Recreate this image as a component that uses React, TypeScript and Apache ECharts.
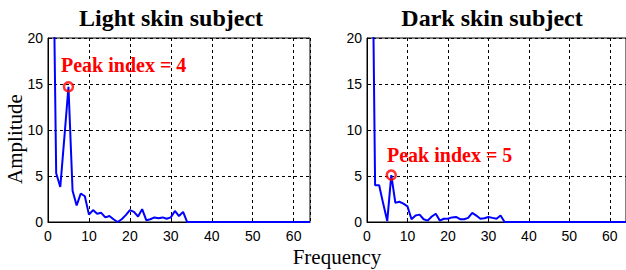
import React, { useEffect, useRef } from "react";
import * as echarts from "echarts";

// Amplitude spectra, sample k (0-based) plotted at frequency k + 1
const lightAmp = [
  40, 5.3, 3.8, 9.2, 14.7, 3.4, 1.8, 3.1, 2.8, 0.8,
  1.3, 0.9, 1.0, 0.5, 0.65, 0.3, 0.0, 0.3, 0.75, 1.3,
  1.1, 0.6, 1.4, 0.2, 0.3, 0.5, 0.4, 0.5, 0.35, 0.5,
  1.2, 0.65, 1.1, 0, 0, 0, 0, 0, 0, 0,
  0, 0, 0, 0, 0, 0, 0, 0, 0, 0,
  0, 0, 0, 0, 0, 0, 0, 0, 0, 0,
  0, 0, 0, 0,
];
const darkAmp = [
  45, 4.0, 4.0, 2.0, 0.1, 5.1, 2.1, 2.2, 2.0, 1.7,
  0.3, 0.7, 0.8, 0.3, 0.15, 0.6, 0.9, 0.15, 0.35, 0.35,
  0.5, 0.55, 0.3, 0.3, 0.45, 1.0, 0.7, 0.35, 0.4, 0.55,
  0.45, 0.35, 0.7, 0, 0, 0, 0, 0, 0, 0,
  0, 0, 0, 0, 0, 0, 0, 0, 0, 0,
  0, 0, 0, 0, 0, 0, 0, 0, 0, 0,
  0, 0, 0, 0,
];
const lightPeakIndex = 4;
const darkPeakIndex = 5;
const titles = ["Light skin subject", "Dark skin subject"];
const xLabel = "Frequency";
const yLabel = "Amplitude";
const xMin = 0, xMax = 64, xStep = 10;
const yMin = 0, yMax = 20, yStep = 5;

const SERIF = "Liberation Serif";
const SANS = "Liberation Sans";

export default function App() {
  const ref = useRef<HTMLDivElement>(null);
  useEffect(() => {
    if (!ref.current) return;
    const chart = echarts.init(ref.current, null, { renderer: "svg" });
    const toPairs = (arr: number[]) => arr.map((v, i) => [i + 1, v]);
    const grids = [
      { left: 48, top: 38, width: 262, height: 184 },
      { left: 367, top: 38, width: 262, height: 184 },
    ];
    const xAxis = [0, 1].map((i) => ({
      type: "value",
      gridIndex: i,
      min: xMin,
      max: xMax,
      interval: xStep,
      axisLine: { show: true, onZero: false, lineStyle: { color: "#000", width: 1 } },
      axisTick: { show: true, inside: true, length: 4, lineStyle: { color: "#000" } },
      axisLabel: { color: "#000", fontSize: 14, fontFamily: SANS, margin: 7, showMaxLabel: false },
      splitLine: { show: true, lineStyle: { color: "#000", width: 1, type: [3, 3] } },
    }));
    const yAxis = [0, 1].map((i) => ({
      type: "value",
      gridIndex: i,
      min: yMin,
      max: yMax,
      interval: yStep,
      axisLine: { show: true, onZero: false, lineStyle: { color: "#000", width: 1 } },
      axisTick: { show: true, inside: true, length: 4, lineStyle: { color: "#000" } },
      axisLabel: { color: "#000", fontSize: 14, fontFamily: SANS, margin: 5 },
      splitLine: { show: true, lineStyle: { color: "#000", width: 1, type: [3, 3] } },
    }));
    const lineSeries = (arr: number[], i: number) => ({
      type: "line",
      xAxisIndex: i,
      yAxisIndex: i,
      data: toPairs(arr),
      symbol: "none",
      clip: true,
      lineStyle: { color: "#0000ff", width: 2 },
      z: 3,
    });
    const peakSeries = (arr: number[], idx: number, i: number) => ({
      type: "scatter",
      xAxisIndex: i,
      yAxisIndex: i,
      data: [[idx + 1, arr[idx]]],
      symbol: "circle",
      symbolSize: 9,
      itemStyle: { color: "rgba(0,0,0,0)", borderColor: "#ff0000", borderWidth: 2.5 },
      z: 4,
    });
    const txt = (text: string, x: number, y: number, size: number, weight: string, fill: string, align: string, extra: any = {}) => ({
      type: "text",
      x,
      y,
      z: 10,
      ...extra,
      style: {
        text,
        fontFamily: SERIF,
        fontSize: size,
        fontWeight: weight,
        fill,
        align,
        verticalAlign: "middle",
      },
    });
    chart.setOption({
      animation: false,
      backgroundColor: "#fff",
      grid: grids.map((g) => ({ ...g, show: true, borderColor: "#000", borderWidth: 1, backgroundColor: "transparent" })),
      xAxis,
      yAxis,
      series: [
        lineSeries(lightAmp, 0),
        lineSeries(darkAmp, 1),
        peakSeries(lightAmp, lightPeakIndex, 0),
        peakSeries(darkAmp, darkPeakIndex, 1),
      ],
      graphic: [
        txt(titles[0], 171, 18, 24, "bold", "#000", "center"),
        txt(titles[1], 492, 18, 24, "bold", "#000", "center"),
        txt(xLabel, 337, 257, 21, "normal", "#000", "center"),
        txt(yLabel, 15, 139, 21, "normal", "#000", "center", { rotation: Math.PI / 2 }),
        txt(`Peak index = ${lightPeakIndex}`, 61, 65, 20, "bold", "#ff0000", "left"),
        txt(`Peak index = ${darkPeakIndex}`, 387, 155, 20, "bold", "#ff0000", "left"),
      ],
    });
    return () => chart.dispose();
  }, []);
  return (
    <div
      ref={ref}
      style={{ position: "absolute", left: 0, top: 0, width: 626, height: 270, overflow: "hidden" }}
    />
  );
}
